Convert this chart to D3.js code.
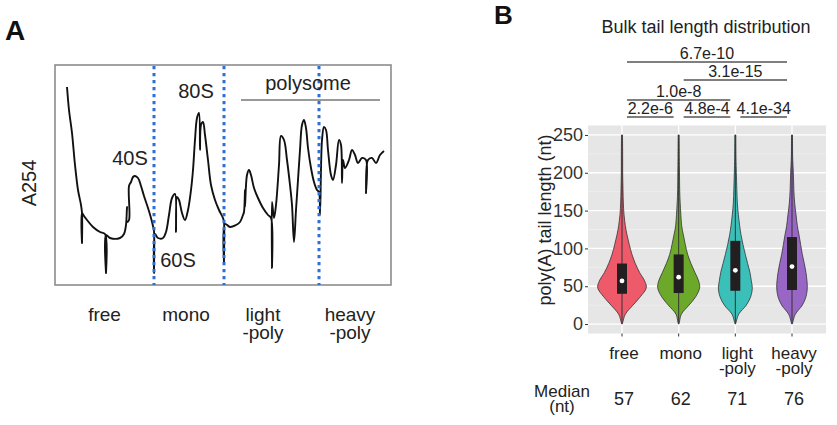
<!DOCTYPE html>
<html><head><meta charset="utf-8">
<script src="https://cdn.jsdelivr.net/npm/d3@7"></script>
<style>body{margin:0;background:#fff}svg{display:block;font-family:"Liberation Sans",Arial,Helvetica,sans-serif}</style>
</head><body><svg id="c" width="837" height="425"></svg>
<script>
// ---------- Panel A data (sucrose-gradient A254 trace, arbitrary units) ----------
const tracePos = [12,14,17,20,23,26,27,27,27,29,32,38,45,50,51,51,55,65,69,71,72,72,74,74,76,78,80,83,86,89,93,96,98,99,99,100,103,108,111,114,117,120,121,122,124,127,130,133,136,138,140,142,144,145,146,148,150,153,156,160,164,168,169,169,170,175,181,185,188,189,190,190,192,194,196,199,203,208,213,216,217,217,219,221,224,226,229,232,235,237,239,241,243,245,247,249,251,253,256,259,262,264,265,267,269,271,273,276,278,281,284,286,287,288,290,294,297,300,303,307,311,311,313,317,321,325,329];
const traceA254 = [198,175,152,120,95,80,72,42,72,69,65,58,53,51,12,50,47,47,51,60,78,63,65,99,103,108,109,107,99,89,77,67,59,54,12,51,47,47,53,70,87,91,53,88,85,72,65,75,95,115,145,167,172,135,160,163,150,125,100,85,75,67,63,23,61,58,60,63,70,73,95,78,110,115,110,97,87,77,70,67,17,83,67,80,120,149,145,125,100,80,43,75,105,135,160,165,157,137,117,103,95,93,70,145,158,155,135,110,105,120,145,140,102,125,117,125,135,130,122,127,125,92,125,127,122,130,134];
const fractionBounds = [99, 169, 264];
const fractionNames = [["free"],["mono"],["light","-poly"],["heavy","-poly"]];
const fractionLabelPos = [49.5, 131, 208, 295];
const peakLabels = ["40S","80S","60S","polysome"];
const peakLabelPos = [75, 141, 123, 253];
const peakLabelA254 = [120, 187, 18, 195];
const polysomeSpan = [186, 325];
const polysomeLevel = 185;

// ---------- Panel B data ----------
const categories = ["free","mono","light-poly","heavy-poly"];
const categoryLabels = [["free"],["mono"],["light","-poly"],["heavy","-poly"]];
const medians = [57, 62, 71, 76];
const q1 = [40, 41, 44, 45];
const q3 = [80, 92, 110, 115];
const whiskerLow = [0, 0, 0, 0];
const whiskerHigh = [250, 250, 250, 250];
const densityGrid = [0,2,13,25,36,48,57,68,80,92,105,118,130,145,160,178,200,220,250];
const densityFree  = [0.5,2,10,33,55,73,68,53,40,30,22,15,10,6,4,3,2,2,1.5];
const densityMono  = [0.5,2,8,31,51,63,60,49,37,27,20,14,9,6.5,4.5,3,2.5,2,1.5];
const densityLight = [0.5,2,10,33,46,51,48,44,37,30,23,17,13,9,6,4.5,3,2,1.5];
const densityHeavy = [0.5,2,10,31,42,46,45,42,37,31,26,21,16,12,8,5.5,4,2,1.5];
const densities = [densityFree, densityMono, densityLight, densityHeavy];
const yTicks = [0, 50, 100, 150, 200, 250];
const yMinor = [25, 75, 125, 175, 225];
const comparisons = [
  {a:0,b:1,p:"2.2e-6",row:0},{a:1,b:2,p:"4.8e-4",row:0},{a:2,b:3,p:"4.1e-34",row:0},
  {a:0,b:2,p:"1.0e-8",row:1},{a:1,b:3,p:"3.1e-15",row:2},{a:0,b:3,p:"6.7e-10",row:3}];
const colors = ["#EF5A6B","#6CA92B","#3BBFB9","#9867C5"];

const svg = d3.select("#c");

// ================= Panel A =================
const ax = d3.scaleLinear().domain([0,336]).range([55,391]);
const ay = d3.scaleLinear().domain([0,220]).range([285,65]);
const gA = svg.append("g");
gA.append("text").attr("x",5).attr("y",40).attr("font-size",28).attr("font-weight","bold").attr("fill","#111").text("A");
gA.append("rect").attr("x",ax(0)).attr("y",ay(220)).attr("width",ax(336)-ax(0)).attr("height",ay(0)-ay(220))
  .attr("fill","none").attr("stroke","#8c8c8c").attr("stroke-width",1.6);
gA.append("text").attr("transform",`translate(36,183) rotate(-90)`).attr("text-anchor","middle")
  .attr("font-size",20).attr("fill","#222").text("A254");
const tracePts = tracePos.map((p,i)=>[p,traceA254[i]]);
gA.append("path").attr("d", d3.line().x(d=>ax(d[0])).y(d=>ay(d[1])).curve(d3.curveCatmullRom.alpha(0.5))(tracePts))
  .attr("fill","none").attr("stroke","#111").attr("stroke-width",1.9).attr("stroke-linejoin","round");
gA.selectAll(".fb").data(fractionBounds).join("line")
  .attr("x1",d=>ax(d)).attr("x2",d=>ax(d)).attr("y1",ay(220)+1).attr("y2",ay(0))
  .attr("stroke","#2f6fd6").attr("stroke-width",3).attr("stroke-dasharray","3.2,3.8");
gA.append("line").attr("x1",ax(polysomeSpan[0])).attr("x2",ax(polysomeSpan[1]))
  .attr("y1",ay(polysomeLevel)).attr("y2",ay(polysomeLevel)).attr("stroke","#777").attr("stroke-width",1.5);
peakLabels.forEach((t,i)=>{
  gA.append("text").attr("x",ax(peakLabelPos[i])).attr("y",ay(peakLabelA254[i])).attr("text-anchor","middle")
    .attr("font-size",20).attr("fill","#222").text(t);
});
fractionNames.forEach((lines,i)=>{
  lines.forEach((t,j)=>{
    gA.append("text").attr("x",ax(fractionLabelPos[i])).attr("y",321+j*18).attr("text-anchor","middle")
      .attr("font-size",19).attr("fill","#222").text(t);
  });
});

// ================= Panel B =================
const px0 = 588, px1 = 826;
const bx = d3.scaleLinear().domain([0.4, 4.6]).range([px0, px1]);
const by = d3.scaleLinear().domain([-12.5, 262.5]).range([333.5, 125.5]);
const wScale = d3.scaleLinear().domain([0, 73]).range([0, 24.3]);
const gB = svg.append("g");
gB.append("text").attr("x",494).attr("y",24).attr("font-size",26).attr("font-weight","bold").attr("fill","#111").text("B");
gB.append("text").attr("x",706).attr("y",33).attr("text-anchor","middle").attr("font-size",18).attr("fill","#222")
  .text("Bulk tail length distribution");
gB.append("rect").attr("x",px0).attr("y",by(262.5)).attr("width",px1-px0).attr("height",by(-12.5)-by(262.5)).attr("fill","#E6E6E6");
gB.selectAll(".mn").data(yMinor).join("line").attr("x1",px0).attr("x2",px1).attr("y1",d=>by(d)).attr("y2",d=>by(d))
  .attr("stroke","#f4f4f4").attr("stroke-width",0.6);
gB.selectAll(".mj").data(yTicks).join("line").attr("x1",px0).attr("x2",px1).attr("y1",d=>by(d)).attr("y2",d=>by(d))
  .attr("stroke","#fff").attr("stroke-width",1.3);
gB.selectAll(".vx").data(categories).join("line").attr("x1",(d,i)=>bx(i+1)).attr("x2",(d,i)=>bx(i+1))
  .attr("y1",by(262.5)).attr("y2",by(-12.5)).attr("stroke","#fff").attr("stroke-width",1.3);
// y axis
const yAxis = d3.axisLeft(by).tickValues(yTicks).tickSize(3).tickPadding(2);
const ya = gB.append("g").attr("transform",`translate(${px0},0)`).call(yAxis);
ya.select(".domain").remove();
ya.selectAll("line").attr("stroke","#333");
ya.selectAll("text").attr("font-size",18).attr("fill","#333").attr("font-family","Liberation Sans, Arial, sans-serif");
gB.append("text").attr("transform","translate(551,220) rotate(-90)").attr("text-anchor","middle")
  .attr("font-size",18).attr("fill","#222").text("poly(A) tail length (nt)");
// x ticks
gB.selectAll(".xt").data(categories).join("line").attr("x1",(d,i)=>bx(i+1)).attr("x2",(d,i)=>bx(i+1))
  .attr("y1",by(-12.5)).attr("y2",by(-12.5)+3).attr("stroke","#333");
categoryLabels.forEach((lines,i)=>{
  lines.forEach((t,j)=>{
    gB.append("text").attr("x",bx(i+1)+2).attr("y",359+j*15).attr("text-anchor","middle")
      .attr("font-size",17).attr("fill","#222").text(t);
  });
});
// violins
const area = d3.area().curve(d3.curveCatmullRom.alpha(0.5));
categories.forEach((c,i)=>{
  const cx = bx(i+1);
  const pts = densityGrid.map((v,k)=>({v, w: wScale(densities[i][k])}));
  gB.append("path").attr("d", area.y(d=>by(d.v)).x0(d=>cx-d.w).x1(d=>cx+d.w)(pts))
    .attr("fill",colors[i]).attr("stroke","#333").attr("stroke-width",0.8);
  gB.append("line").attr("x1",cx).attr("x2",cx).attr("y1",by(whiskerLow[i])).attr("y2",by(whiskerHigh[i]))
    .attr("stroke","#333").attr("stroke-width",1);
  gB.append("rect").attr("x",cx-5).attr("width",10).attr("y",by(q3[i])).attr("height",by(q1[i])-by(q3[i])).attr("fill","#231f20");
  gB.append("circle").attr("cx",cx).attr("cy",by(medians[i])).attr("r",2.4).attr("fill","#fff");
});
// significance
const rowY = [117, 100, 80, 62];
comparisons.forEach(cmp=>{
  const x1 = bx(cmp.a+1)+5, x2 = bx(cmp.b+1)-5, yy = rowY[cmp.row];
  gB.append("line").attr("x1",x1).attr("x2",x2).attr("y1",yy).attr("y2",yy).attr("stroke","#555").attr("stroke-width",1.3);
  gB.append("text").attr("x",(x1+x2)/2).attr("y",yy-3).attr("text-anchor","middle").attr("font-size",16).attr("fill","#222").text(cmp.p);
});
// medians row
gB.append("text").attr("x",562).attr("y",397).attr("text-anchor","middle").attr("font-size",17).attr("fill","#222").text("Median");
gB.append("text").attr("x",562).attr("y",412).attr("text-anchor","middle").attr("font-size",17).attr("fill","#222").text("(nt)");
medians.forEach((m,i)=>{
  gB.append("text").attr("x",bx(i+1)+2).attr("y",405).attr("text-anchor","middle").attr("font-size",18).attr("fill","#222").text(m);
});
</script></body></html>
